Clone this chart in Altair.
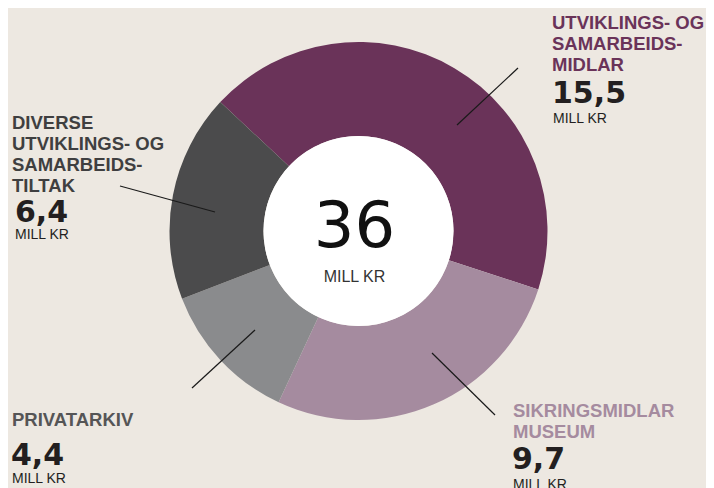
import altair as alt
import pandas as pd
import math

# ---- data ----
categories = ["Utviklings- og samarbeidsmidlar", "Sikringsmidlar museum", "Privatarkiv", "Diverse utviklings- og samarbeidstiltak"]
values = [15.5, 9.7, 4.4, 6.4]
title_lines = [
    ["UTVIKLINGS- OG", "SAMARBEIDS-", "MIDLAR"],
    ["SIKRINGSMIDLAR", "MUSEUM"],
    ["PRIVATARKIV"],
    ["DIVERSE", "UTVIKLINGS- OG", "SAMARBEIDS-", "TILTAK"],
]
value_labels = ["15,5", "9,7", "4,4", "6,4"]
unit_label = "MILL KR"
total_label = "36"

# ---- styling / layout ----
slice_colors = ["#6a3359", "#a58b9f", "#8a8b8d", "#4b4b4c"]
title_colors = ["#6a3359", "#a58b9f", "#555556", "#3f3f40"]
bg = "#ede8e1"
W, H = 698, 480
CX, CY = 350.5, 223
R_OUT, R_IN = 189, 95
start = math.radians(-47)

# label anchor (left x, first-line baseline y) in chart pixels
anchors = [(544, 21), (505, 409), (4, 418), (4, 121)]
leaders = [((449, 117), (510, 60)), ((424, 345), (487, 407)),
           ((247, 322), (184, 380)), ((207, 204), (112, 178))]
value_anchor = [(544, 95), (504, 461), (3, 457), (7, 214)]
unit_anchor = [(545, 115), (505, 481), (4, 475), (7, 231)]

pie = pd.DataFrame({"cat": categories, "value": values, "order": range(len(values))})

arc = alt.Chart(pie).mark_arc(outerRadius=R_OUT, innerRadius=R_IN).encode(
    theta=alt.Theta("value:Q", stack=True, scale=alt.Scale(range=[start, start + 2 * math.pi])),
    order=alt.Order("order:Q"),
    color=alt.Color("cat:N", scale=alt.Scale(domain=categories, range=slice_colors), legend=None),
    x=alt.value(CX), y=alt.value(CY),
)

hole = alt.Chart(pd.DataFrame({"a": [1]})).mark_arc(
    outerRadius=R_IN, innerRadius=0, theta=0, theta2=2 * math.pi, color="white"
).encode(x=alt.value(CX), y=alt.value(CY))

rows = []
for i, lines in enumerate(title_lines):
    x0, y0 = anchors[i]
    for j, t in enumerate(lines):
        rows.append({"t": t, "x": x0, "y": y0 + j * 21, "c": title_colors[i]})
titles = alt.Chart(pd.DataFrame(rows)).mark_text(
    align="left", baseline="alphabetic", font="Liberation Sans", fontWeight="bold", fontSize=18.5
).encode(x=alt.X("x:Q", scale=None), y=alt.Y("y:Q", scale=None), text="t:N",
         color=alt.Color("c:N", scale=None))

vals = alt.Chart(pd.DataFrame({"t": value_labels, "x": [a[0] for a in value_anchor], "y": [a[1] for a in value_anchor]})).mark_text(
    align="left", baseline="alphabetic", font="DejaVu Sans", fontWeight="bold", fontSize=30, color="#231f20"
).encode(x=alt.X("x:Q", scale=None), y=alt.Y("y:Q", scale=None), text="t:N")

units = alt.Chart(pd.DataFrame({"t": [unit_label] * 4, "x": [a[0] for a in unit_anchor], "y": [a[1] for a in unit_anchor]})).mark_text(
    align="left", baseline="alphabetic", font="Liberation Sans", fontSize=14, color="#231f20"
).encode(x=alt.X("x:Q", scale=None), y=alt.Y("y:Q", scale=None), text="t:N")

lead_df = pd.DataFrame({"x": [l[0][0] for l in leaders], "y": [l[0][1] for l in leaders],
                        "x2": [l[1][0] for l in leaders], "y2": [l[1][1] for l in leaders]})
lead = alt.Chart(lead_df).mark_rule(color="#1a1a1a", strokeWidth=1.2).encode(
    x=alt.X("x:Q", scale=None), y=alt.Y("y:Q", scale=None),
    x2="x2:Q", y2="y2:Q")

center = alt.Chart(pd.DataFrame({"t": [total_label]})).mark_text(
    align="center", baseline="alphabetic", font="DejaVu Sans", fontSize=64, color="#111111"
).encode(x=alt.value(CX - 4), y=alt.value(CY + 16), text="t:N")
center_unit = alt.Chart(pd.DataFrame({"t": [unit_label]})).mark_text(
    align="center", baseline="alphabetic", font="Liberation Sans", fontSize=16, color="#333333"
).encode(x=alt.value(CX - 4), y=alt.value(CY + 51), text="t:N")

chart = alt.layer(arc, hole, lead, titles, vals, units, center, center_unit).properties(
    width=W, height=H, background=bg, padding=0, autosize=alt.AutoSizeParams(type="none")
).configure_view(stroke=None)

chart.save("out.html", embed_options={"renderer": "svg", "actions": False})
